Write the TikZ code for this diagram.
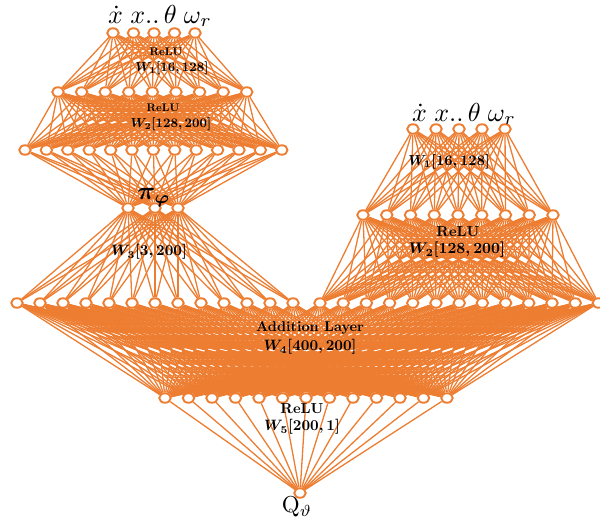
\documentclass[tikz,border=0pt]{standalone}
\usetikzlibrary{shapes.geometric,backgrounds}
\definecolor{org}{HTML}{ED7D31}
\begin{document}
\begin{tikzpicture}[x=1pt,y=-1pt,
  neuron/.style={ellipse,draw=org,fill=white,line width=1.9pt,minimum width=11.5pt,minimum height=9.5pt,inner sep=0pt},
  edge/.style={draw=org,line width=1.3pt},
  lbl/.style={text=black,inner sep=0pt,font=\bfseries\boldmath,scale=#1},
  inlbl/.style={text=black,inner sep=0pt,scale=2.6}]
\useasboundingbox (0,0) rectangle (600,525);
% left network
\foreach \i in {1,...,5} \node[neuron] (a\i) at ({113+(\i-1)*20.5},33) {};
\foreach \i in {1,...,9} \node[neuron] (b\i) at ({58+(\i-1)*23.6},92) {};
\foreach \i in {1,...,13} \node[neuron] (c\i) at ({25+(\i-1)*21.4},150) {};
\node[neuron] (p1) at (128,208) {};
\node[neuron] (p2) at (155,208) {};
\node[neuron] (p3) at (178,208) {};
% big row
\foreach \i in {1,...,13} \node[neuron] (m\i) at ({17+(\i-1)*23},303) {};
\foreach \i in {14,...,26} \node[neuron] (m\i) at ({320+(\i-14)*23.2},303) {};
% right network
\foreach \i in {1,...,5} \node[neuron] (r\i) at ({413+(\i-1)*23},129) {};
\foreach \i in {1,...,9} \node[neuron] (s\i) at ({363+(\i-1)*23.75},215) {};
% bottom
\foreach \i in {1,...,13} \node[neuron] (d\i) at ({165+(\i-1)*23.5},398) {};
\node[neuron] (q) at (300,493) {};
\begin{scope}[on background layer]
\foreach \i in {1,...,5} \foreach \j in {1,...,9} \draw[edge] (a\i) -- (b\j);
\foreach \i in {1,...,9} \foreach \j in {1,...,13} \draw[edge] (b\i) -- (c\j);
\foreach \i in {1,...,13} \foreach \j in {1,2,3} \draw[edge] (c\i) -- (p\j);
\foreach \i in {1,2,3} \foreach \j in {1,...,13} \draw[edge] (p\i) -- (m\j);
\foreach \i in {1,...,5} \foreach \j in {1,...,9} \draw[edge] (r\i) -- (s\j);
\foreach \i in {1,...,9} \foreach \j in {14,...,26} \draw[edge] (s\i) -- (m\j);
\foreach \i in {1,...,26} \foreach \j in {1,...,13} \draw[edge] (m\i) -- (d\j);
\foreach \i in {1,...,13} \draw[edge] (d\i) -- (q);
\end{scope}
% labels
\node[inlbl] (inL) at (160,16) {$\dot{x}\;x..\,\theta\;\omega_r$};
\node[inlbl] (inR) at (464,114) {$\dot{x}\;x..\,\theta\;\omega_r$};
\node[lbl=1.1] (relu1) at (166,52) {ReLU};
\node[lbl=1.3] (w1) at (172,68) {$W_1[16,128]$};
\node[lbl=1.1] (relu2) at (163,108) {ReLU};
\node[lbl=1.3] (w2) at (171,124) {$W_2[128,200]$};
\node[lbl=2.5] (pi) at (154,198) {$\pi_{\varphi}$};
\node[lbl=1.5] (w3) at (149,252) {$W_3[3,200]$};
\node[lbl=1.45] (rw1) at (449,162) {$W_1[16,128]$};
\node[lbl=1.45] (rrelu) at (458,232) {ReLU};
\node[lbl=1.55] (rw2) at (457,250) {$W_2[128,200]$};
\node[lbl=1.42] (add) at (310,328) {Addition Layer};
\node[lbl=1.5] (w4) at (310,347) {$W_4[400,200]$};
\node[lbl=1.45] (relu5) at (302,409) {ReLU};
\node[lbl=1.5] (w5) at (302,427) {$W_5[200,1]$};
\node[text=black,inner sep=0pt,scale=2.3] (ql) at (297,507) {$\mathrm{Q}_{\vartheta}$};
\end{tikzpicture}
\end{document}
